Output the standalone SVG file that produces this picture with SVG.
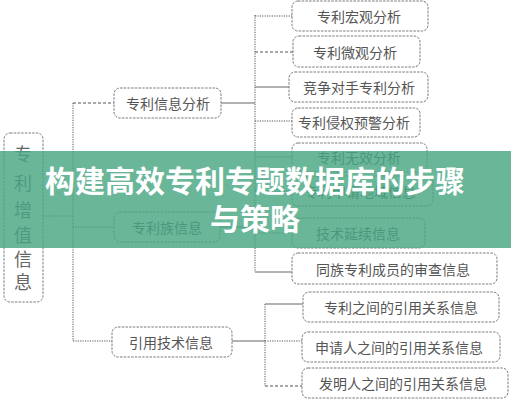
<svg xmlns="http://www.w3.org/2000/svg" width="511" height="400" viewBox="0 0 511 400">
<style>
.box{fill:#fff;stroke:#7a7a7a;stroke-width:1;stroke-dasharray:2.5 1.2}
.t{font-family:"Noto Sans CJK SC","Noto Sans CJK JP",sans-serif;font-size:14px;fill:#555;text-anchor:middle;dominant-baseline:central}
.v{font-family:"Noto Sans CJK SC","Noto Sans CJK JP",serif;font-size:18px;fill:#666;text-anchor:middle;dominant-baseline:central}
.dot{fill:none;stroke:#555;stroke-width:1;stroke-dasharray:1.2 1.2}
.dash{fill:none;stroke:#555;stroke-width:1;stroke-dasharray:3 2}
.sol{fill:none;stroke:#666;stroke-width:1}
.title{font-family:"Noto Sans CJK SC","Noto Sans CJK JP",sans-serif;font-size:30px;font-weight:bold;fill:#fff;text-anchor:middle}
</style>
<rect width="511" height="400" fill="#fff"/>
<g id="connectors">
<path class="dot" d="M73,103 V341"/>
<path class="dot" d="M43,216 H73"/>
<path class="dash" d="M73,103 H114"/>
<path class="dot" d="M73,227 H114"/>
<path class="dot" d="M73,341 H112"/>
<path class="dot" d="M255,15 V272"/>
<path class="sol" d="M221,103 H255"/>
<path class="sol" d="M220,227 H255"/>
<path class="dot" d="M255,16 H292"/>
<path class="dash" d="M255,52 H293"/>
<path class="sol" d="M255,87 H289"/>
<path class="dot" d="M255,121 H292"/>
<path class="dot" d="M255,157 H292"/>
<path class="dot" d="M255,191 H292"/>
<path class="dot" d="M255,233 H292"/>
<path class="sol" d="M255,272 H292"/>
<path class="dot" d="M265,304 V386"/>
<path class="sol" d="M265,304 H303"/>
<path class="sol" d="M232,341 H265"/>
<path class="dot" d="M265,341 H302"/>
<path class="dash" d="M265,386 H302"/>
</g>
<g id="n-root"><rect class="box" x="4" y="133" width="39" height="169" rx="6"/>
<text class="v" x="23" y="153">专</text><text class="v" x="23" y="182">利</text><text class="v" x="23" y="209">增</text><text class="v" x="23" y="234">值</text><text class="v" x="23" y="258">信</text><text class="v" x="23" y="281">息</text></g>
<g id="n-a"><rect class="box" x="114" y="88" width="107" height="30" rx="6"/><text class="t" x="168" y="103">专利信息分析</text></g>
<g id="n-b"><rect class="box" x="114" y="212" width="106" height="30" rx="6"/><text class="t" x="167" y="227">专利族信息</text></g>
<g id="n-c"><rect class="box" x="112" y="327" width="120" height="30" rx="6"/><text class="t" x="171" y="342">引用技术信息</text></g>
<g id="n-a1"><rect class="box" x="292" y="1" width="136" height="30" rx="6"/><text class="t" x="359" y="16">专利宏观分析</text></g>
<g id="n-a2"><rect class="box" x="293" y="36" width="127" height="31" rx="6"/><text class="t" x="355" y="52">专利微观分析</text></g>
<g id="n-a3"><rect class="box" x="289" y="72" width="139" height="30" rx="6"/><text class="t" x="359" y="87">竞争对手专利分析</text></g>
<g id="n-a4"><rect class="box" x="292" y="108" width="128" height="29" rx="6"/><text class="t" x="354" y="122">专利侵权预警分析</text></g>
<g id="n-a5"><rect class="box" x="292" y="143" width="135" height="29" rx="6"/><text class="t" x="359" y="157">专利无效分析</text></g>
<g id="n-b1"><rect class="box" x="292" y="176" width="141" height="30" rx="6"/><text class="t" x="360" y="191">专利申请地域信息</text></g>
<g id="n-b2"><rect class="box" x="292" y="218" width="133" height="30" rx="6"/><text class="t" x="358" y="233">技术延续信息</text></g>
<g id="n-b3"><rect class="box" x="292" y="253" width="205" height="31" rx="6"/><text class="t" x="393" y="269">同族专利成员的审查信息</text></g>
<g id="n-c1"><rect class="box" x="303" y="292" width="196" height="30" rx="6"/><text class="t" x="401" y="307">专利之间的引用关系信息</text></g>
<g id="n-c2"><rect class="box" x="302" y="332" width="198" height="30" rx="6"/><text class="t" x="399" y="347">申请人之间的引用关系信息</text></g>
<g id="n-c3"><rect class="box" x="302" y="368" width="206" height="30" rx="6"/><text class="t" x="403" y="383">发明人之间的引用关系信息</text></g>
<g id="banner">
<rect x="0" y="151" width="511" height="97" fill="rgb(72,166,130)" fill-opacity="0.82"/>
<text class="title" x="255" y="192">构建高效专利专题数据库的步骤</text>
<text class="title" x="255" y="230">与策略</text>
</g>
</svg>
